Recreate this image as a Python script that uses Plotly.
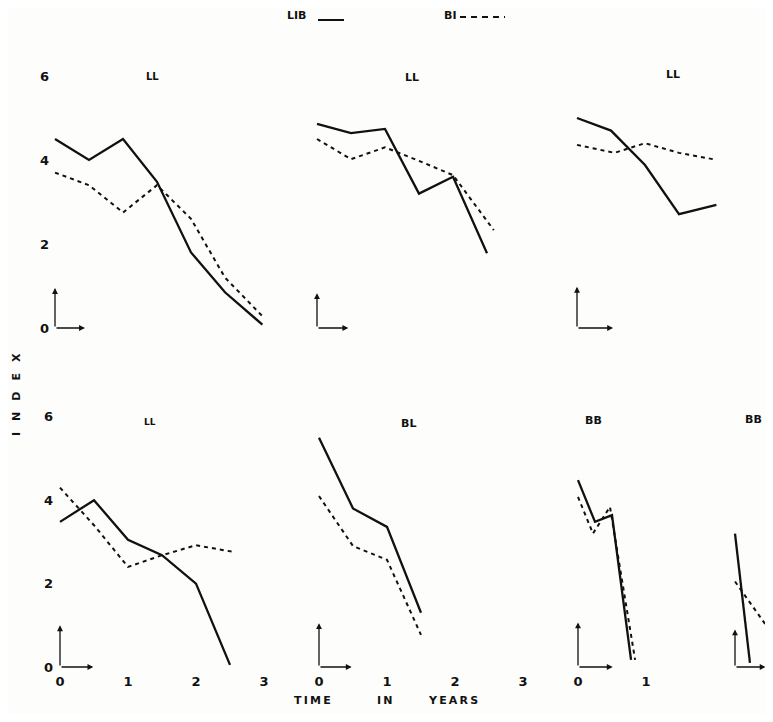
import plotly.graph_objects as go

# ---------------- data ----------------
PANEL_TITLES = ["LL", "LL", "LL", "LL", "BL", "BB", "BB"]
SERIES_NAMES = ["LIB", "BI"]

A_LIB_X = [0, 0.5, 1.0, 1.5, 2.0, 2.5, 3.05]
A_LIB_Y = [4.5, 4.0, 4.5, 3.48, 1.8, 0.85, 0.08]
A_BI_X = [0, 0.5, 1.0, 1.5, 2.0, 2.5, 3.05]
A_BI_Y = [3.7, 3.4, 2.75, 3.4, 2.6, 1.2, 0.28]

B_LIB_X = [0, 0.5, 1.0, 1.5, 2.0, 2.5]
B_LIB_Y = [4.86, 4.64, 4.74, 3.2, 3.6, 1.78]
B_BI_X = [0, 0.5, 1.0, 1.5, 2.0, 2.6]
B_BI_Y = [4.5, 4.02, 4.3, 3.98, 3.64, 2.33]

C_LIB_X = [0, 0.5, 1.0, 1.5, 2.05]
C_LIB_Y = [5.0, 4.7, 3.88, 2.71, 2.93]
C_BI_X = [0, 0.55, 1.0, 1.5, 2.0]
C_BI_Y = [4.36, 4.17, 4.4, 4.17, 4.02]

D_LIB_X = [0, 0.5, 1.0, 1.5, 2.0, 2.5]
D_LIB_Y = [3.48, 4.0, 3.05, 2.68, 2.0, 0.05]
D_BI_X = [0, 0.5, 1.0, 1.5, 2.0, 2.55]
D_BI_Y = [4.3, 3.4, 2.4, 2.68, 2.92, 2.76]

E_LIB_X = [0, 0.5, 1.0, 1.5]
E_LIB_Y = [5.5, 3.8, 3.36, 1.3]
E_BI_X = [0, 0.5, 1.0, 1.5]
E_BI_Y = [4.1, 2.9, 2.57, 0.77]

F_LIB_X = [0, 0.25, 0.5, 0.78]
F_LIB_Y = [4.48, 3.48, 3.64, 0.17]
F_BI_X = [0, 0.22, 0.47, 0.84]
F_BI_Y = [4.08, 3.2, 3.84, 0.17]

G_LIB_X = [0, 0.22]
G_LIB_Y = [3.2, 0.1]
G_BI_X = [0, 0.5, 0.8]
G_BI_Y = [2.05, 0.9, 0.3]

Y_TICKS = [0, 2, 4, 6]
X_TICKS_3 = [0, 1, 2, 3]
X_TICKS_1 = [0, 1]

# ---------------- layout helpers (pixel geometry of the 773x722 page) ----------------
PAGE_W, PAGE_H = 773, 722
OFF = 8                      # default page body margin
W, H = PAGE_W - 2 * OFF, PAGE_H - 2 * OFF
RIGHT = OFF + W              # last visible pixel column
SX = 68.0                    # px per year
SY = {0: 42.0, 1: 41.7}      # px per index unit, per row
ROW_Y = {0: (58, 345), 1: (398, 672)}
ORIGIN_Y = {0: 328, 1: 667}


def fx(px):
    return (px - OFF) / W


def fy(py):
    return 1 - (py - OFF) / H


panels = [
    dict(lib=(A_LIB_X, A_LIB_Y), bi=(A_BI_X, A_BI_Y), row=0, ox=55, dom=(50, 300),
         title=(152, 76, "center"), tsize=10, ytick=True, xtick=None, arr=(0.95, 0.44)),
    dict(lib=(B_LIB_X, B_LIB_Y), bi=(B_BI_X, B_BI_Y), row=0, ox=317, dom=(300, 560),
         title=(412, 77, "center"), tsize=11, ytick=False, xtick=None, arr=(0.83, 0.46)),
    dict(lib=(C_LIB_X, C_LIB_Y), bi=(C_BI_X, C_BI_Y), row=0, ox=577, dom=(560, RIGHT),
         title=(673, 75, "center"), tsize=11, ytick=False, xtick=None, arr=(0.98, 0.53)),
    dict(lib=(D_LIB_X, D_LIB_Y), bi=(D_BI_X, D_BI_Y), row=1, ox=60, dom=(54, 300),
         title=(150, 422, "center"), tsize=9, ytick=True, xtick=X_TICKS_3, arr=(1.0, 0.49)),
    dict(lib=(E_LIB_X, E_LIB_Y), bi=(E_BI_X, E_BI_Y), row=1, ox=319, dom=(300, 560),
         title=(408, 423, "center"), tsize=11, ytick=False, xtick=X_TICKS_3, arr=(1.05, 0.48)),
    dict(lib=(F_LIB_X, F_LIB_Y), bi=(F_BI_X, F_BI_Y), row=1, ox=578, dom=(560, 722),
         title=(593, 421, "center"), tsize=11, ytick=False, xtick=X_TICKS_1, arr=(1.07, 0.51)),
    dict(lib=(G_LIB_X, G_LIB_Y), bi=(G_BI_X, G_BI_Y), row=1, ox=735, dom=(722, RIGHT),
         title=(RIGHT - 1, 419, "right"), tsize=11, ytick=False, xtick=None, arr=(0.9, 0.45)),
]

FONT = "DejaVu Sans"
INK = "#111111"
BG = "#fdfdfc"

fig = go.Figure()
annotations = []

for i, p in enumerate(panels):
    n = i + 1
    xa = "x" if n == 1 else f"x{n}"
    ya = "y" if n == 1 else f"y{n}"
    xk = "xaxis" if n == 1 else f"xaxis{n}"
    yk = "yaxis" if n == 1 else f"yaxis{n}"
    r = p["row"]
    top, bot = ROW_Y[r]
    a, b = p["dom"]
    xr = [(a - p["ox"]) / SX, (b - p["ox"]) / SX]
    yr = [(ORIGIN_Y[r] - bot) / SY[r], (ORIGIN_Y[r] - top) / SY[r]]

    fig.add_trace(go.Scatter(x=p["lib"][0], y=p["lib"][1], xaxis=xa, yaxis=ya,
                             mode="lines", line=dict(color=INK, width=2.3),
                             name=SERIES_NAMES[0], showlegend=False))
    fig.add_trace(go.Scatter(x=p["bi"][0], y=p["bi"][1], xaxis=xa, yaxis=ya,
                             mode="lines", line=dict(color=INK, width=2.0, dash="4px,4px"),
                             name=SERIES_NAMES[1], showlegend=False))

    fig.layout[xk] = dict(domain=[max(0, fx(a)), min(1, fx(b))],
                          range=xr, anchor=ya,
                          showgrid=False, zeroline=False, showline=False, ticks="",
                          automargin=False, fixedrange=True,
                          showticklabels=p["xtick"] is not None,
                          tickvals=p["xtick"] if p["xtick"] else [],
                          tickfont=dict(family=FONT, size=13, color=INK, weight="bold"))
    fig.layout[yk] = dict(domain=[fy(bot), fy(top)], range=yr, anchor=xa,
                          showgrid=False, zeroline=False, showline=False, ticks="",
                          automargin=False, fixedrange=True,
                          showticklabels=p["ytick"],
                          tickvals=Y_TICKS if p["ytick"] else [],
                          tickfont=dict(family=FONT, size=13, color=INK, weight="bold"))

    # little L-shaped axis arrows
    vlen, hlen = p["arr"]
    for tip in [(0, vlen), (hlen, 0)]:
        annotations.append(dict(xref=xa, yref=ya, axref=xa, ayref=ya,
                                x=tip[0], y=tip[1], ax=0, ay=0, text="",
                                showarrow=True, arrowhead=2, arrowsize=0.9,
                                arrowwidth=1.3, arrowcolor=INK))
    # panel title
    tx, ty, anc = p["title"]
    annotations.append(dict(xref="paper", yref="paper", x=fx(tx), y=fy(ty),
                            xanchor=anc, yanchor="middle",
                            text=PANEL_TITLES[i], showarrow=False,
                            font=dict(family=FONT, size=p["tsize"], color=INK, weight="bold")))

# legend (text then line sample, as in the original)
for name, cx in [(SERIES_NAMES[0], 297), (SERIES_NAMES[1], 450)]:
    annotations.append(dict(xref="paper", yref="paper", x=fx(cx), y=fy(15),
                            xanchor="center", yanchor="middle",
                            text=name, showarrow=False,
                            font=dict(family=FONT, size=11, color=INK, weight="bold")))
shapes = [
    dict(type="line", xref="paper", yref="paper", x0=fx(318), x1=fx(344),
         y0=fy(20), y1=fy(20), line=dict(color=INK, width=2)),
    dict(type="line", xref="paper", yref="paper", x0=fx(460), x1=fx(505),
         y0=fy(17), y1=fy(17), line=dict(color=INK, width=2, dash="6px,5px")),
]

# axis titles
annotations.append(dict(xref="paper", yref="paper", x=fx(16), y=fy(395),
                        xanchor="center", yanchor="middle",
                        text="I\u2003N\u2003D\u2003E\u2003X", textangle=-90, showarrow=False,
                        font=dict(family=FONT, size=11, color=INK, weight="bold")))
for word, cx in [("T\u2009I\u2009M\u2009E", 312), ("I\u2009N", 385), ("Y\u2009E\u2009A\u2009R\u2009S", 453)]:
    annotations.append(dict(xref="paper", yref="paper", x=fx(cx), y=fy(700),
                            xanchor="center", yanchor="middle",
                            text=word, showarrow=False,
                            font=dict(family=FONT, size=11, color=INK, weight="bold")))

fig.update_layout(width=W, height=H, margin=dict(l=0, r=0, t=0, b=0),
                  template="none", paper_bgcolor=BG, plot_bgcolor="rgba(0,0,0,0)",
                  showlegend=False, annotations=annotations, shapes=shapes)

fig.write_html("out.html")
